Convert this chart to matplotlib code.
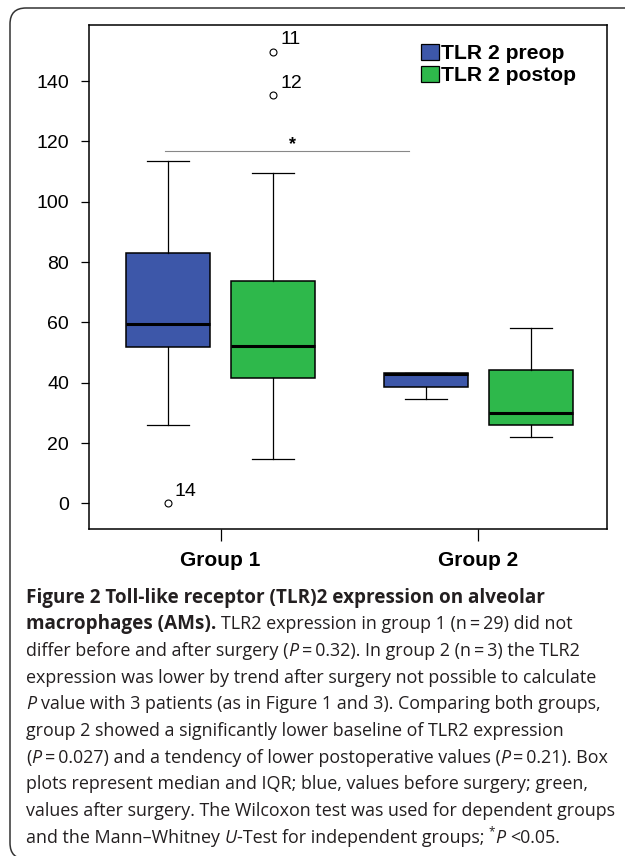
import matplotlib
matplotlib.use('Agg')
import matplotlib.pyplot as plt
from matplotlib.patches import Patch, FancyBboxPatch
from matplotlib.transforms import IdentityTransform
from matplotlib.font_manager import FontProperties

W, H = 625, 856
plt.rcParams['font.family'] = ['Liberation Sans', 'DejaVu Sans']

series = ['TLR 2 preop', 'TLR 2 postop']
groups = ['Group 1', 'Group 2']
colors = ['#3d57a9', '#2eb84b']

# boxes in order: group 1 preop, group 1 postop, group 2 preop, group 2 postop
whislo = [26.0, 14.8, 34.7, 22.1]
q1 = [51.7, 41.5, 38.7, 26.1]
med = [59.4, 52.3, 42.8, 30.0]
q3 = [82.9, 73.7, 43.1, 44.1]
whishi = [113.4, 109.5, 43.1, 58.1]
fliers = [[0.0], [149.7, 135.3], [], []]
flier_ids = [['14'], ['11', '12'], [], []]

sig_span = (0.97, 3.29)
sig_y = 116.9

positions = [1, 2, 3.45, 4.45]
group_pos = [1.5, 3.95]

fig = plt.figure(figsize=(W / 100, H / 100), dpi=100)
ax = fig.add_axes([88.5 / W, 1 - 529 / H, (607 - 88.5) / W, (529 - 25) / H])

stats = []
for i in range(4):
    stats.append(dict(whislo=whislo[i], q1=q1[i], med=med[i], q3=q3[i],
                      whishi=whishi[i], fliers=fliers[i]))

bp = ax.bxp(stats, positions=positions, widths=0.8, capwidths=0.4,
            patch_artist=True, showfliers=True,
            boxprops=dict(linewidth=1.1, edgecolor='black'),
            medianprops=dict(color='black', linewidth=2.2),
            whiskerprops=dict(color='black', linewidth=0.9),
            capprops=dict(color='black', linewidth=0.9),
            flierprops=dict(marker='o', markerfacecolor='white',
                            markeredgecolor='black', markersize=5,
                            markeredgewidth=0.8))
for patch, c in zip(bp['boxes'], colors * 2):
    patch.set_facecolor(c)

for pos, vals, ids in zip(positions, fliers, flier_ids):
    for v, s in zip(vals, ids):
        ax.annotate(s, (pos, v), xytext=(5, 5.5), textcoords='offset points',
                    fontsize=14, ha='left', va='baseline')

ax.plot(sig_span, [sig_y, sig_y], color='#888888', lw=0.8)
ax.text(2.18, sig_y + 0.6, '*', ha='center', va='baseline', fontsize=13,
        fontweight='bold')

ax.set_xlim(0.244, 5.173)
ax.set_ylim(-8.5, 158.6)
ax.set_yticks(range(0, 141, 20))
ax.set_xticks(group_pos)
ax.set_xticklabels(groups, fontsize=15, fontweight='bold')
ax.tick_params(axis='y', direction='out', length=6, width=0.9, labelsize=14, pad=8)
ax.tick_params(axis='x', direction='out', length=8.5, width=0.9, pad=7)
for sp in ax.spines.values():
    sp.set_linewidth(1.1)

handles = [Patch(facecolor=c, edgecolor='black', lw=0.9) for c in colors]
ax.legend(handles, series, loc='upper left', bbox_to_anchor=(421 / W, 1 - 44 / H),
          bbox_transform=fig.transFigure, frameon=False,
          prop=dict(weight='bold', size=15.2), handlelength=0.85,
          handleheight=0.8, handletextpad=0.12, labelspacing=0.1,
          borderpad=0, borderaxespad=0)

# rounded frame around figure
frame = FancyBboxPatch((10, -3), 700, 851, boxstyle='round,pad=0,rounding_size=16',
                       transform=IdentityTransform(), fill=False, lw=1.1, ec='#333333')
fig.add_artist(frame)

# caption
cap_lines = [
    [('Figure 2 Toll-like receptor (TLR)2 expression on alveolar', 'b')],
    [('macrophages (AMs).', 'b'), (' TLR2 expression in group 1 (n\u2009=\u200929) did not', 'r')],
    [('differ before and after surgery (', 'r'), ('P', 'i'),
     ('\u2009=\u20090.32). In group 2 (n\u2009=\u20093) the TLR2', 'r')],
    [('expression was lower by trend after surgery not possible to calculate', 'r')],
    [('P', 'i'), (' value with 3 patients (as in Figure 1 and 3). Comparing both groups,', 'r')],
    [('group 2 showed a significantly lower baseline of TLR2 expression', 'r')],
    [('(', 'r'), ('P', 'i'), ('\u2009=\u20090.027) and a tendency of lower postoperative values (', 'r'),
     ('P', 'i'), ('\u2009=\u20090.21). Box', 'r')],
    [('plots represent median and IQR; blue, values before surgery; green,', 'r')],
    [('values after surgery. The Wilcoxon test was used for dependent groups', 'r')],
    [('and the Mann\u2013Whitney ', 'r'), ('U', 'i'), ('-Test for independent groups; ', 'r'),
     ('*', 'sup'), ('P', 'i'), (' <0.05.', 'r')],
]

renderer = fig.canvas.get_renderer()
fam = ['Open Sans', 'DejaVu Sans']


def fprop(style, size):
    if style == 'b':
        return FontProperties(family=fam, weight='bold', size=size)
    if style == 'i':
        return FontProperties(family=fam, style='italic', size=size)
    if style == 'sup':
        return FontProperties(family=fam, size=size * 0.65)
    return FontProperties(family=fam, size=size)


def width(s, fp):
    a = renderer.get_text_width_height_descent('|' + s + '|', fp, ismath=False)[0]
    b = renderer.get_text_width_height_descent('||', fp, ismath=False)[0]
    return a - b


fs = 10 * 570 / width(cap_lines[3][0][0], fprop('r', 10))
fs_b = 10 * 520 / width(cap_lines[0][0][0], fprop('b', 10))
cap_color = '#231f20'
x0, base0, dy = 26, 602.5, 26.67
for k, runs in enumerate(cap_lines):
    x = x0
    yb = H - (base0 + k * dy)
    for s, st in runs:
        fp = fprop(st, fs_b if st == 'b' else fs)
        stripped = s.strip(' ')
        lead = len(s) - len(s.lstrip(' '))
        trail = len(s) - len(s.rstrip(' '))
        sp = width(' ', fp)
        x += lead * sp
        y = yb + (7 if st == 'sup' else 0)
        fig.text(x, y, stripped, fontproperties=fp, color=cap_color,
                 ha='left', va='baseline', transform=IdentityTransform())
        x += width(stripped, fp) + trail * sp

fig.savefig('out.png', dpi=100)
